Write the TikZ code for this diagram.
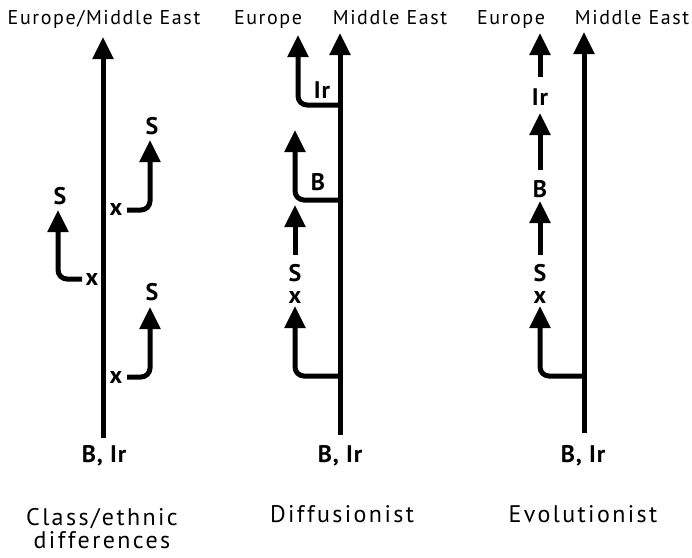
\documentclass[tikz,border=0pt]{standalone}
\usepackage{fontspec}
\setmainfont{PT Sans}
\newfontfamily\headfont[LetterSpace=8]{PT Sans}
\newfontfamily\captfont[LetterSpace=10]{PT Sans}
\newfontfamily\labfont[LetterSpace=4]{PT Sans}
\usetikzlibrary{arrows.meta}

\begin{document}
\begin{tikzpicture}[x=1pt,y=-1pt,
  arr/.style={line width=5pt,-{Triangle[length=22pt,width=20pt]}},
  elbow/.style={arr,rounded corners=9pt},
  head/.style={anchor=base,inner sep=0pt,font=\headfont\fontsize{20}{22}\selectfont},
  lab/.style={anchor=base,inner sep=0pt,font=\labfont\bfseries\fontsize{24}{26}\selectfont},
  capt/.style={anchor=base,inner sep=0pt,font=\captfont\fontsize{24}{26}\selectfont}]
\useasboundingbox (0,0) rectangle (692,557);

% ---------- Class/ethnic differences ----------
\node[head] (h1) at (104,24) {Europe/Middle East};
\coordinate (m1b) at (103,438);
\coordinate (m1t) at (103,37);
\draw[arr] (m1b) -- (m1t);

\coordinate (a1s) at (127,210); \coordinate (a1t) at (150,140);
\draw[elbow] (a1s) -| (a1t);
\node[lab] (a1x) at (116,215) {x};
\node[lab] (a1S) at (152,134) {S};

\coordinate (b1s) at (82,279); \coordinate (b1t) at (58,210);
\draw[elbow] (b1s) -| (b1t);
\node[lab] (b1x) at (92,285) {x};
\node[lab] (b1S) at (60,204) {S};

\coordinate (c1s) at (127,377); \coordinate (c1t) at (150,307);
\draw[elbow] (c1s) -| (c1t);
\node[lab] (c1x) at (116,383) {x};
\node[lab] (c1S) at (152,300) {S};

\node[lab] (r1) at (104,462) {B, Ir};
\node[capt] (t1a) at (102,525) {Class/ethnic};
\node[capt] (t1b) at (102,548) {differences};

% ---------- Diffusionist ----------
\node[head] (e2) at (268,24) {Europe};
\node[head] (me2) at (390,24) {Middle East};
\coordinate (m2b) at (340,435);
\coordinate (m2t) at (340,33);
\draw[arr] (m2b) -- (m2t);

\coordinate (i2s) at (340,105); \coordinate (i2t) at (298,35);
\draw[elbow] (i2s) -| (i2t);
\node[lab] (i2) at (322,98) {Ir};

\coordinate (b2s) at (340,200); \coordinate (b2t) at (295,130);
\draw[elbow] (b2s) -| (b2t);
\node[lab] (b2) at (318,190) {B};

\coordinate (s2b) at (295,255); \coordinate (s2t) at (295,205);
\draw[arr] (s2b) -- (s2t);
\node[lab] (s2) at (295,281) {S};
\node[lab] (x2) at (295,303) {x};

\coordinate (d2s) at (340,376); \coordinate (d2t) at (295,306);
\draw[elbow] (d2s) -| (d2t);

\node[lab] (r2) at (340,462) {B, Ir};
\node[capt] (t2) at (342,522) {Diffusionist};

% ---------- Evolutionist ----------
\node[head] (e3) at (511,24) {Europe};
\node[head] (me3) at (632,24) {Middle East};
\coordinate (m3b) at (584,433);
\coordinate (m3t) at (584,32);
\draw[arr] (m3b) -- (m3t);

\coordinate (i3b) at (540,77); \coordinate (i3t) at (540,33);
\draw[arr] (i3b) -- (i3t);
\node[lab] (i3) at (540,105) {Ir};

\coordinate (b3b) at (540,170); \coordinate (b3t) at (540,113);
\draw[arr] (b3b) -- (b3t);
\node[lab] (b3) at (540,197) {B};

\coordinate (s3b) at (540,255); \coordinate (s3t) at (540,201);
\draw[arr] (s3b) -- (s3t);
\node[lab] (s3) at (540,281) {S};
\node[lab] (x3) at (540,303) {x};

\coordinate (d3s) at (584,376); \coordinate (d3t) at (540,306);
\draw[elbow] (d3s) -| (d3t);

\node[lab] (r3) at (583,462) {B, Ir};
\node[capt] (t3) at (583,522) {Evolutionist};
\end{tikzpicture}
\end{document}
